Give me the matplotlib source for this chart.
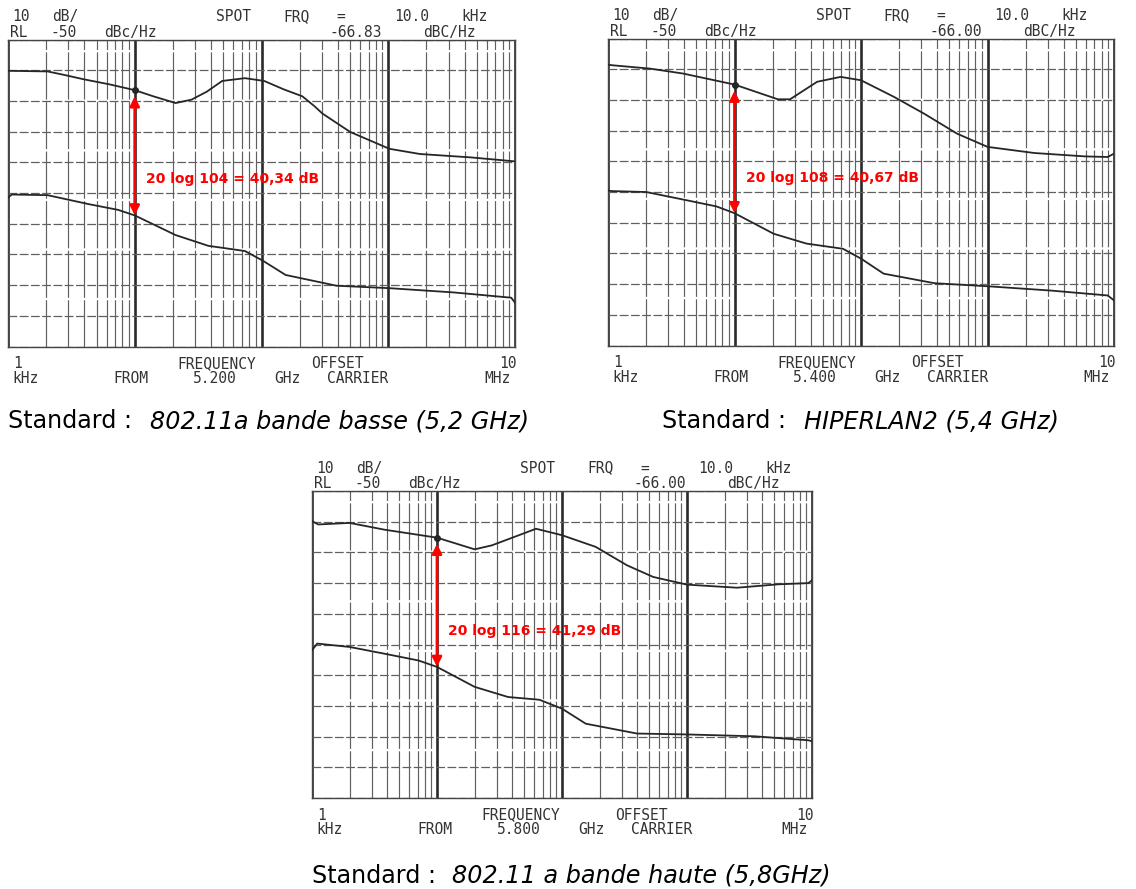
import re
import numpy as np
import matplotlib
matplotlib.use("Agg")
import matplotlib.pyplot as plt
from matplotlib.ticker import LogLocator, MultipleLocator

W, H = 1136, 889

# ---------------- data: offset frequency (kHz) / phase noise (dBc/Hz) ----------------
# Panel 1 : 802.11a bande basse (5,2 GHz)
p1_up_f = [1.0, 2.05, 2.75, 4.0, 6.3, 10, 14, 21, 28, 37, 49, 74, 105, 151, 210, 263, 302, 500, 1020, 1780, 4470, 10000]
p1_up_v = [-60.2, -60.4, -61.5, -63.0, -64.6, -66.5, -68.5, -70.7, -69.6, -67.0, -63.5, -62.6, -63.5, -66.3, -68.5, -71.8, -74.1, -80.1, -85.6, -87.3, -88.4, -89.7]
p1_lo_f = [1.0, 1.07, 2.05, 4.3, 7.4, 10, 21, 38, 74, 102, 155, 390, 1020, 3310, 9330, 10000]
p1_lo_v = [-101.5, -100.5, -100.7, -103.6, -105.5, -107.3, -113.7, -117.2, -118.9, -122.0, -126.7, -130.2, -131.0, -132.4, -134.1, -135.7]

# Panel 2 : HIPERLAN2 (5,4 GHz)
p2_up_f = [1.0, 1.07, 2.14, 3.9, 10, 22, 27.5, 45, 69, 100, 182, 316, 575, 1000, 2344, 5888, 8913, 10000]
p2_up_v = [-58.5, -58.7, -59.8, -61.4, -65.0, -69.8, -69.8, -64.1, -62.5, -63.6, -69.0, -74.5, -81.0, -85.3, -87.3, -88.4, -88.6, -87.5]
p2_lo_f = [1.0, 1.07, 2.0, 4.2, 7.2, 10, 20.4, 37, 72, 100, 151, 380, 1000, 3162, 8913, 10000]
p2_lo_v = [-99.5, -99.7, -100.0, -102.7, -104.7, -106.9, -113.6, -116.8, -118.5, -121.7, -126.6, -129.7, -130.7, -132.1, -133.7, -135.3]

# Panel 3 : 802.11 a bande haute (5,8 GHz)
p3_up_f = [1.0, 1.12, 2.0, 3.8, 10, 20, 27.5, 62, 100, 186, 331, 537, 1000, 2512, 5370, 9333, 10000]
p3_up_v = [-59.8, -60.9, -60.4, -62.6, -65.2, -69.0, -67.7, -62.3, -64.4, -68.2, -74.2, -78.0, -80.5, -81.5, -80.4, -80.0, -79.1]
p3_lo_f = [1.0, 1.1, 2.0, 3.8, 7.1, 10, 20, 37, 66, 100, 155, 398, 1000, 3467, 9333, 10000]
p3_lo_v = [-101.9, -99.7, -100.8, -103.0, -105.2, -107.3, -113.8, -117.1, -118.0, -120.9, -125.8, -129.0, -129.3, -129.9, -131.2, -131.5]

spot_values = ["-66.83", "-66.00", "-66.00"]
carriers = ["5.200", "5.400", "5.800"]
ratio_labels = ["20 log 104 = 40,34 dB", "20 log 108 = 40,67 dB", "20 log 116 = 41,29 dB"]
cap_prefix = "Standard :"
cap_italic = ["802.11a bande basse (5,2 GHz)", "HIPERLAN2 (5,4 GHz)", "802.11 a bande haute (5,8GHz)"]

# ---------------- figure ----------------
fig = plt.figure(figsize=(W / 100, H / 100), dpi=100)
fig.patch.set_facecolor("white")

INK = "#262626"
GRID = "#606060"


def mono(x, y, s, pitch=13.4, size=10.5):
    """Plotter-style text: words placed on a wide fixed character pitch (y = row centre)."""
    for m in re.finditer(r"\S+", s):
        fig.text((x + m.start() * pitch) / W, 1 - (y + 5) / H, m.group(), ha="left",
                 va="baseline", family="DejaVu Sans Mono", fontsize=size, color="#333333")


def panel(box, up_f, up_v, lo_f, lo_v, spot, carrier, label):
    x0, y0, x1, y1 = box
    ax = fig.add_axes([x0 / W, 1 - y1 / H, (x1 - x0) / W, (y1 - y0) / H])
    ax.set_xscale("log")
    ax.set_xlim(1, 1e4)
    ax.set_ylim(-150, -50)
    ax.xaxis.set_major_locator(LogLocator(base=10, numticks=10))
    ax.xaxis.set_minor_locator(LogLocator(base=10, subs=np.arange(2, 10), numticks=40))
    ax.yaxis.set_major_locator(MultipleLocator(10))
    ax.tick_params(which="both", length=0, labelbottom=False, labelleft=False)
    ax.grid(True, which="major", axis="x", color="#2a2a2a", lw=1.9)
    ax.grid(True, which="minor", axis="x", color=GRID, lw=0.85, ls=(0, (40, 2)))
    ax.grid(True, which="major", axis="y", color=GRID, lw=0.9, ls=(0, (7, 2)))
    ax.set_axisbelow(True)
    for s in ax.spines.values():
        s.set_color("#444444")
        s.set_linewidth(1.0)

    ax.plot(up_f, up_v, color=INK, lw=1.3, zorder=3)
    ax.plot(lo_f, lo_v, color=INK, lw=1.3, zorder=3)

    top = up_v[up_f.index(10)]
    bot = lo_v[lo_f.index(10)]
    ax.plot([10], [top], "o", ms=4, color=INK, zorder=4)
    ax.annotate("", xy=(10, top - 2.0), xytext=(10, bot),
                arrowprops=dict(arrowstyle="<|-|>", color="#ff0000", lw=2,
                                mutation_scale=14, shrinkA=0, shrinkB=0), zorder=5)
    ax.annotate(label, xy=(10, -95.5), xytext=(8, 0), textcoords="offset points",
                color="#ff0000", fontweight="bold", fontsize=10, va="center", ha="left",
                family="DejaVu Sans")

    # plotter annotations
    mono(x0 + 4, y0 - 23.5, "10 dB/")
    mono(x0 + 208, y0 - 23.5, "SPOT FRQ =")
    mono(x0 + 386, y0 - 23.5, "10.0 kHz")
    mono(x0 + 2, y0 - 7.5, "RL -50 dBc/Hz")
    mono(x0 + 321, y0 - 7.5, spot + " dBC/Hz")
    mono(x0 + 5, y1 + 16.5, "1")
    mono(x0 + 169, y1 + 16.5, "FREQUENCY OFFSET")
    mono(x1 - 16, y1 + 16.5, "10")
    mono(x0 + 4, y1 + 31.5, "kHz")
    mono(x0 + 105, y1 + 31.5, "FROM  " + carrier + " GHz CARRIER")
    mono(x1 - 31, y1 + 31.5, "MHz")
    return ax


boxes = [(8, 39.5, 515, 346.5), (608, 38.5, 1114, 345.5), (312, 491, 812, 798)]
panel(boxes[0], p1_up_f, p1_up_v, p1_lo_f, p1_lo_v, spot_values[0], carriers[0], ratio_labels[0])
panel(boxes[1], p2_up_f, p2_up_v, p2_lo_f, p2_lo_v, spot_values[1], carriers[1], ratio_labels[1])
panel(boxes[2], p3_up_f, p3_up_v, p3_lo_f, p3_lo_v, spot_values[2], carriers[2], ratio_labels[2])

# captions
cap_pos = [(8, 150, 421), (662, 804, 421), (312, 452, 876)]
for (xa, xb, yc), txt in zip(cap_pos, cap_italic):
    fig.text(xa / W, 1 - yc / H, cap_prefix, ha="left", va="center", fontsize=17.2,
             family="DejaVu Sans", color="black")
    fig.text(xb / W, 1 - yc / H, txt, ha="left", va="center", fontsize=17.2,
             family="DejaVu Sans", style="italic", color="black")

fig.savefig("out.png", dpi=100, facecolor="white")
